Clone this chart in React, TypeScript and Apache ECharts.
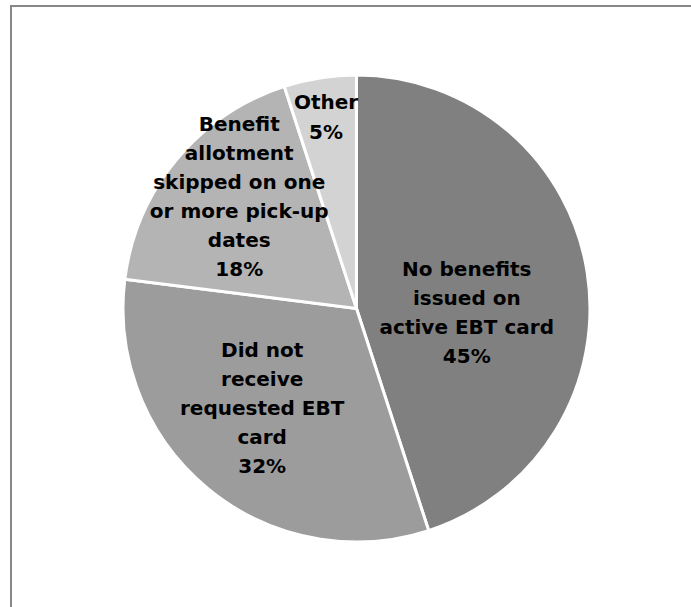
import React, { useEffect, useRef } from "react";
import * as echarts from "echarts";

const categories = [
  "No benefits issued on active EBT card",
  "Did not receive requested EBT card",
  "Benefit allotment skipped on one or more pick-up dates",
  "Other",
];
const labelLines = [
  ["No benefits", "issued on", "active EBT card"],
  ["Did not", "receive", "requested EBT", "card"],
  ["Benefit", "allotment", "skipped on one", "or more pick-up", "dates"],
  ["Other"],
];
const values = [45, 32, 18, 5];
const colors = ["#808080", "#9c9c9c", "#b4b4b4", "#d3d3d3"];
const labelOffsets = [
  [-8, 23],
  [-18, 7],
  [-25, -36],
  [0, 0],
];

const PIE_CX = 356.5;
const PIE_CY = 308.5;
const PIE_R = 233.5;
// the narrow "Other" slice gets its label placed near the top of the slice
const OTHER_LABEL_SHIFT = [-30.5, -192];

const FONT_FAMILY = "DejaVu Sans";
const FONT_SIZE = 20;

export default function App() {
  const ref = useRef<HTMLDivElement>(null);
  useEffect(() => {
    if (!ref.current) return;
    const chart = echarts.init(ref.current, undefined, { renderer: "svg" });
    const fmt = (i: number) =>
      labelLines[i].join("\n") + "\n" + values[i] + "%";
    chart.setOption({
      animation: false,
      backgroundColor: "#ffffff",
      graphic: [
        {
          type: "rect",
          shape: { x: 11, y: 6, width: 700, height: 620 },
          style: { fill: "none", stroke: "#878787", lineWidth: 2 },
          silent: true,
        },
        {
          type: "text",
          silent: true,
          z: 100,
          x: PIE_CX + OTHER_LABEL_SHIFT[0],
          y: PIE_CY + OTHER_LABEL_SHIFT[1],
          style: {
            text: fmt(3),
            fill: "#000000",
            font: `bold ${FONT_SIZE}px "${FONT_FAMILY}"`,
            lineHeight: 30,
            textAlign: "center",
            textVerticalAlign: "middle",
          },
        },
      ],
      series: [
        {
          type: "pie",
          center: [PIE_CX, PIE_CY],
          radius: PIE_R,
          startAngle: 90,
          clockwise: true,
          avoidLabelOverlap: false,
          itemStyle: { borderColor: "#ffffff", borderWidth: 3 },
          label: {
            show: true,
            position: "inside",
            color: "#000000",
            fontFamily: FONT_FAMILY,
            fontWeight: "bold",
            fontSize: FONT_SIZE,
            lineHeight: 29,
            align: "center",
            verticalAlign: "middle",
            formatter: (p: any) => fmt(p.dataIndex),
          },
          labelLine: { show: false },
          data: categories.map((name, i) => ({
            name,
            value: values[i],
            itemStyle: { color: colors[i] },
            label: { offset: labelOffsets[i], show: i !== 3 },
          })),
        },
      ],
    });
    return () => chart.dispose();
  }, []);
  return (
    <div
      ref={ref}
      style={{ position: "absolute", left: 0, top: 0, width: 691, height: 607 }}
    />
  );
}
